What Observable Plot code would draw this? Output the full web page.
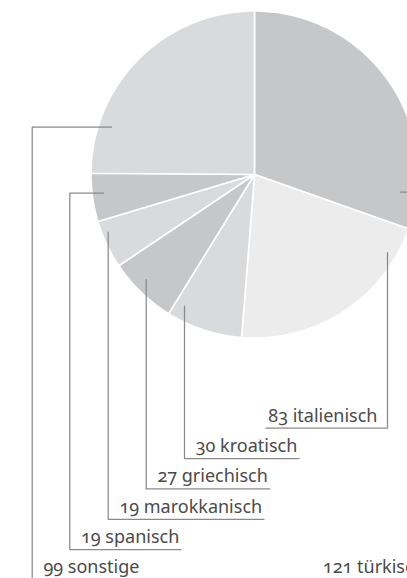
<!DOCTYPE html>
<html>
<head>
<meta charset="utf-8">
<script src="https://cdn.jsdelivr.net/npm/d3@7"></script>
<script src="https://cdn.jsdelivr.net/npm/@observablehq/plot@0.6"></script>
<style>
  html, body { margin: 0; padding: 0; background: #fff; }
  #chart { width: 407px; height: 578px; overflow: hidden; }
  #chart svg { display: block; font-variant-numeric: oldstyle-nums; }
</style>
</head>
<body>
<div id="chart"></div>
<script>
// ---- data (clockwise from 12 o'clock) ----
const languages = ["türkisch", "italienisch", "kroatisch", "griechisch", "marokkanisch", "spanisch", "sonstige"];
const counts = [121, 83, 30, 27, 19, 19, 99];

// ---- styles ----
const sliceFill = ["#c6c7c9", "#ebeceb", "#d9dadc", "#c6c7c9", "#d9dadc", "#c6c7c9", "#d9dadc"];
const FONT_SIZE = 18;
const FONT = "'Noto Sans', 'Open Sans', sans-serif";
const TEXT_COLOR = "#4a4a4a";
const LINE_COLOR = "#8a8a8a";

// ---- layout (pixels) ----
const W = 407, H = 578;
const cx = 254, cy = 174, R = 163.5;
const leaderAnchor = [[400, 191.7], [387, 252], [184, 305.7], [145.7, 279], [107.7, 231.7], [103, 192.7], [111, 126.7]];
const leaderColumn = [null, 387, 184, 145.7, 107.7, 69.3, 31.7];
const labelStart = [321, null, null, null, null, null, null];
const leaderRow = [5, 0, 1, 2, 3, 4, 5];
const leaderSide = ["right", "right", "left", "left", "left", "left", "left"];
const rowY0 = 427.7, rowStep = 30.35;

// text measurement
const ctx = document.createElement("canvas").getContext("2d");
ctx.font = `${FONT_SIZE}px ${FONT}`;

const arcs = d3.pie().sort(null).value(d => d)(counts);

// slice polygons
const slicePolys = arcs.map((a, i) => {
  const pts = [{x: cx, y: cy}];
  const n = Math.max(2, Math.ceil((a.endAngle - a.startAngle) / (Math.PI / 180)));
  for (let k = 0; k <= n; k++) {
    const t = a.startAngle + (a.endAngle - a.startAngle) * k / n;
    pts.push({x: cx + R * Math.sin(t), y: cy - R * Math.cos(t)});
  }
  pts.push({x: cx, y: cy});
  return {name: languages[i], fill: sliceFill[i], pts};
});

// leaders and labels
const leaderRows = [];
const labelRows = [];
languages.forEach((name, i) => {
  const text = `${counts[i]} ${name}`;
  const w = ctx.measureText(text).width;
  const uy = rowY0 + rowStep * leaderRow[i];
  const col = leaderColumn[i] ?? (labelStart[i] + w + 10);
  const [ax, ay] = leaderAnchor[i];
  const pts = [];
  pts.push([ax, ay]);
  if (ax !== col) pts.push([col, ay]);
  pts.push([col, uy]);
  let tx, anchor;
  if (leaderSide[i] === "left") {
    tx = col + 11.2; anchor = "start";
    pts.push([tx + w + 1, uy]);
  } else {
    tx = col - 10; anchor = "end";
    pts.push([tx - w - 1.5, uy]);
  }
  pts.forEach(([x, y]) => leaderRows.push({name, x, y}));
  labelRows.push({text, x: tx, y: uy - 6.7 - 0.32 * FONT_SIZE, anchor});
});

const chart = Plot.plot({
  width: W,
  height: H,
  margin: 0,
  x: {domain: [0, W], range: [0, W], axis: null},
  y: {domain: [0, H], range: [0, H], axis: null},
  style: {background: "#fff", fontFamily: FONT, fontSize: FONT_SIZE + "px", color: TEXT_COLOR},
  marks: [
    ...slicePolys.map(s => Plot.line(s.pts, {
      x: "x", y: "y", fill: s.fill, stroke: "#fff", strokeWidth: 1.6, strokeLinejoin: "round", curve: "linear"
    })),
    Plot.line(leaderRows, {x: "x", y: "y", z: "name", stroke: LINE_COLOR, strokeWidth: 1.25, curve: "linear"}),
    Plot.text(labelRows.filter(d => d.anchor === "start"), {x: "x", y: "y", text: "text", textAnchor: "start", fill: TEXT_COLOR}),
    Plot.text(labelRows.filter(d => d.anchor === "end"), {x: "x", y: "y", text: "text", textAnchor: "end", fill: TEXT_COLOR})
  ]
});
document.getElementById("chart").appendChild(chart);
</script>
</body>
</html>
